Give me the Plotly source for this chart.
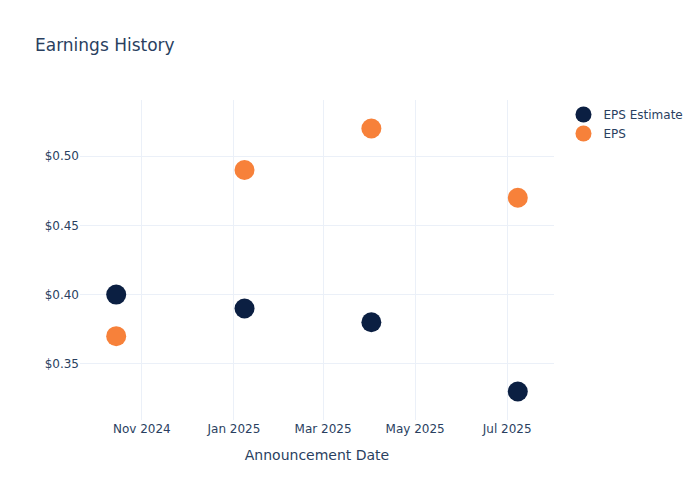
import plotly.graph_objects as go

dates = ["2024-10-15", "2025-01-08", "2025-04-02", "2025-07-08"]
eps_estimate = [0.40, 0.39, 0.38, 0.33]
eps_actual = [0.37, 0.49, 0.52, 0.47]

fig = go.Figure()
fig.add_trace(go.Scatter(x=dates, y=eps_estimate, mode="markers", name="EPS Estimate",
                         marker=dict(color="#0b1f42", size=20)))
fig.add_trace(go.Scatter(x=dates, y=eps_actual, mode="markers", name="EPS",
                         marker=dict(color="#f7813a", size=20)))
fig.update_layout(
    template="plotly_white",
    width=692, height=492,
    margin=dict(l=72, t=92, b=80, r=80),
    font=dict(family="DejaVu Sans"),
    title=dict(text="Earnings History", x=0.039, xanchor="left",
               y=0.9248, yanchor="middle"),
    xaxis=dict(title=dict(text="Announcement Date")),
    yaxis=dict(tickprefix="$", tickformat=".2f"),
)
fig.write_html("out.html")
